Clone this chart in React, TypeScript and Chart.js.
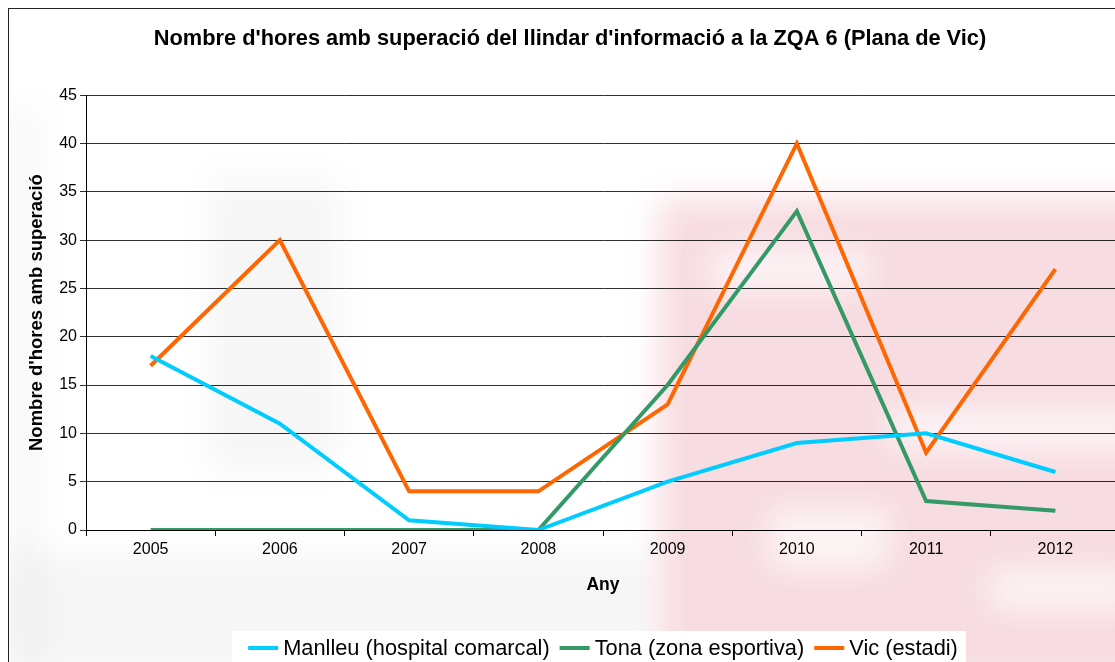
import React, { useEffect, useRef } from "react";
import { Chart, registerables } from "chart.js";

Chart.register(...registerables);

const years = ["2005", "2006", "2007", "2008", "2009", "2010", "2011", "2012"];
const manlleu = [18, 11, 1, 0, 5, 9, 10, 6];
const tona = [0, 0, 0, 0, 15, 33, 3, 2];
const vic = [17, 30, 4, 4, 13, 40, 8, 27];
const seriesNames = ["Manlleu (hospital comarcal)", "Tona (zona esportiva)", "Vic (estadi)"];
const seriesColors = ["#00CCFF", "#339966", "#FF6600"];
const titleText = "Nombre d'hores amb superació del llindar d'informació a la ZQA 6 (Plana de Vic)";
const yTitle = "Nombre d'hores amb superació";
const xTitle = "Any";

const FONT = "'Liberation Sans', Arial, sans-serif";
const LEGEND_FONT_SIZE = 21.8;

const backdrop = {
  id: "backdrop",
  beforeDraw(chart: any) {
    const ctx = chart.ctx;
    const { width, height } = chart;
    ctx.save();
    ctx.fillStyle = "#ffffff";
    ctx.fillRect(0, 0, width, height);
    // faint grey watermark on the left
    ctx.filter = "blur(16px)";
    ctx.fillStyle = "rgba(215,215,215,0.22)";
    ctx.fillRect(0, 545, 640, 120);
    ctx.fillRect(200, 170, 130, 290);
    ctx.fillRect(0, 100, 30, 560);
    // pink watermark on the right
    ctx.fillStyle = "rgba(242,196,205,0.6)";
    ctx.fillRect(650, 190, 520, 480);
    ctx.fillStyle = "rgba(255,255,255,0.7)";
    ctx.fillRect(700, 240, 160, 40);
    ctx.fillRect(880, 400, 260, 40);
    ctx.fillRect(760, 500, 120, 60);
    ctx.fillRect(980, 560, 150, 40);
    ctx.filter = "none";
    ctx.restore();
  },
};

const customLegend = {
  id: "customLegend",
  afterDraw(chart: any) {
    const ctx = chart.ctx;
    ctx.save();
    ctx.font = `${LEGEND_FONT_SIZE}px ${FONT}`;
    const lineW = 30;
    const gapText = 5;
    const gapItem = 10;
    const widths = chart.data.datasets.map((d: any) => ctx.measureText(d.label).width);
    const total =
      widths.reduce((a: number, b: number) => a + b, 0) +
      widths.length * (lineW + gapText) +
      (widths.length - 1) * gapItem;
    const ca = chart.chartArea;
    const cx = (ca.left + ca.right) / 2;
    const cy = 639;
    let x = cx - total / 2;
    ctx.fillStyle = "#ffffff";
    ctx.fillRect(x - 16, cy - 17, total + 24, 40);
    ctx.textBaseline = "middle";
    chart.data.datasets.forEach((d: any, i: number) => {
      ctx.strokeStyle = d.borderColor;
      ctx.lineWidth = 4;
      ctx.beginPath();
      ctx.moveTo(x, cy);
      ctx.lineTo(x + lineW, cy);
      ctx.stroke();
      x += lineW + gapText;
      ctx.fillStyle = "#000";
      ctx.fillText(d.label, x, cy + 1);
      x += widths[i] + gapItem;
    });
    ctx.restore();
  },
};

export default function App() {
  const ref = useRef<HTMLCanvasElement | null>(null);
  useEffect(() => {
    if (!ref.current) return;
    const data = [manlleu, tona, vic];
    const chart = new Chart(ref.current, {
      type: "line",
      data: {
        labels: years,
        datasets: seriesNames.map((n, i) => ({
          label: n,
          data: data[i],
          borderColor: seriesColors[i],
          backgroundColor: seriesColors[i],
          borderWidth: 4,
          pointRadius: 0,
          tension: 0,
          borderJoinStyle: "miter" as const,
        })),
      },
      options: {
        animation: false,
        responsive: false,
        layout: { padding: { left: 11, right: 11, top: 0, bottom: 49 } },
        plugins: {
          title: {
            display: true,
            text: titleText,
            color: "#000",
            font: { family: FONT, size: 21.8, weight: "bold" },
            padding: { top: 17, bottom: 43 },
          },
          legend: { display: false },
          tooltip: { enabled: false },
        },
        scales: {
          x: {
            offset: true,
            grid: { display: true, drawOnChartArea: false, offset: true, tickLength: 6, color: "#000" },
            border: { display: true, color: "#000", width: 1 },
            ticks: { color: "#000", font: { family: FONT, size: 16 }, padding: 4, maxRotation: 0 },
            title: {
              display: true,
              text: xTitle,
              color: "#000",
              font: { family: FONT, size: 17.5, weight: "bold" },
              padding: { top: 0, bottom: 24 },
            },
            afterFit(scale: any) { scale.height = 90; },
          },
          y: {
            min: 0,
            max: 45,
            ticks: { stepSize: 5, color: "#000", font: { family: FONT, size: 16 }, padding: 3 },
            grid: { color: "rgba(0,0,0,0.82)", lineWidth: 1, tickLength: 6 },
            border: { display: true, color: "#000", width: 1 },
            title: {
              display: true,
              text: yTitle,
              color: "#000",
              font: { family: FONT, size: 18.5, weight: "bold" },
              padding: { top: 6, bottom: 0 },
            },
            afterFit(scale: any) { scale.width = 66; },
          },
        },
      },
      plugins: [backdrop, customLegend],
    });
    return () => chart.destroy();
  }, []);

  return (
    <div style={{ position: "fixed", inset: 0, overflow: "hidden", background: "#fff" }}>
      <div
        style={{
          position: "absolute",
          left: 8,
          top: 8,
          width: 1160,
          height: 700,
          border: "1px solid #222",
          boxSizing: "border-box",
        }}
      >
        <canvas ref={ref} width={1122} height={660} style={{ display: "block" }} />
      </div>
    </div>
  );
}
